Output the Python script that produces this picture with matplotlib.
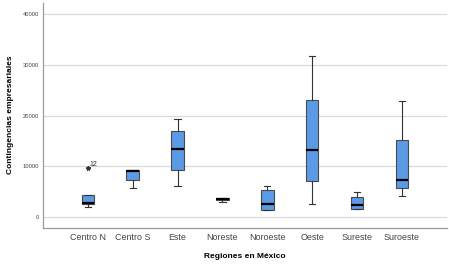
import matplotlib
matplotlib.use("Agg")
import matplotlib.pyplot as plt

plt.rcParams['font.family'] = ['Liberation Sans', 'DejaVu Sans']

categories = ["Centro N", "Centro S", "Este", "Noreste", "Noroeste", "Oeste", "Sureste", "Suroeste"]
whislo = [1920, 5670, 6000, 2900, 1320, 2510, 1460, 4090]
q1     = [2450, 7250, 9290, 3360, 1320, 7110, 1460, 5730]
med    = [2700, 9090, 13440, 3600, 2510, 13180, 2250, 7310]
q3     = [4230, 9170, 16880, 3750, 5340, 23120, 3830, 15100]
whishi = [4230, 9300, 19370, 3750, 6070, 31700, 4820, 22870]
outliers = [[9680], [], [], [], [], [], [], []]
outlier_labels = [["12"], [], [], [], [], [], [], []]
yticks = [0, 10000, 20000, 30000, 40000]

stats = []
for i, c in enumerate(categories):
    stats.append(dict(label=c, whislo=whislo[i], q1=q1[i], med=med[i], q3=q3[i],
                      whishi=whishi[i], fliers=outliers[i]))

fig = plt.figure(figsize=(4.49, 2.65), dpi=100)
ax = fig.add_axes([0.0958, 0.1396, 0.899, 0.849])

for y in yticks:
    ax.axhline(y, color="#dadada", lw=0.9, zorder=0)

ax.bxp(stats, positions=range(len(categories)), widths=0.28, patch_artist=True,
       boxprops=dict(facecolor="#5b9be6", edgecolor="#4a4a4a", linewidth=0.8),
       medianprops=dict(color="black", linewidth=1.6),
       whiskerprops=dict(color="#333333", linewidth=0.8),
       capprops=dict(color="#333333", linewidth=0.8),
       capwidths=0.14,
       flierprops=dict(marker="*", markersize=3.2, markerfacecolor="#333333",
                       markeredgecolor="#333333"))

for i, (vals, labs) in enumerate(zip(outliers, outlier_labels)):
    for v, l in zip(vals, labs):
        ax.annotate(l, (i, v), xytext=(1.5, 1), textcoords="offset points",
                    fontsize=5, color="#333333")

ax.set_xlim(-1, 8)
ax.set_ylim(-2230, 42230)
ax.set_yticks(yticks)
ax.set_yticklabels([str(v) for v in yticks], fontsize=4.2, color="#444444")
ax.set_xticks(range(len(categories)))
ax.set_xticklabels(categories, fontsize=6.4, color="#444444")
ax.tick_params(axis="y", length=0, pad=3)
ax.tick_params(axis="x", length=0, pad=3.5)
for s in ["top", "right"]:
    ax.spines[s].set_visible(False)
for s in ["left", "bottom"]:
    ax.spines[s].set_color("#999999")
    ax.spines[s].set_linewidth(0.9)

ax.set_xlabel("Regiones en México", fontsize=6, fontweight="bold")
ax.xaxis.set_label_coords(0.5, -0.11)
ax.set_ylabel("Contingencias empresariales", fontsize=6, fontweight="bold")
ax.yaxis.set_label_coords(-0.073, 0.502)

fig.savefig("out.png", dpi=100)
